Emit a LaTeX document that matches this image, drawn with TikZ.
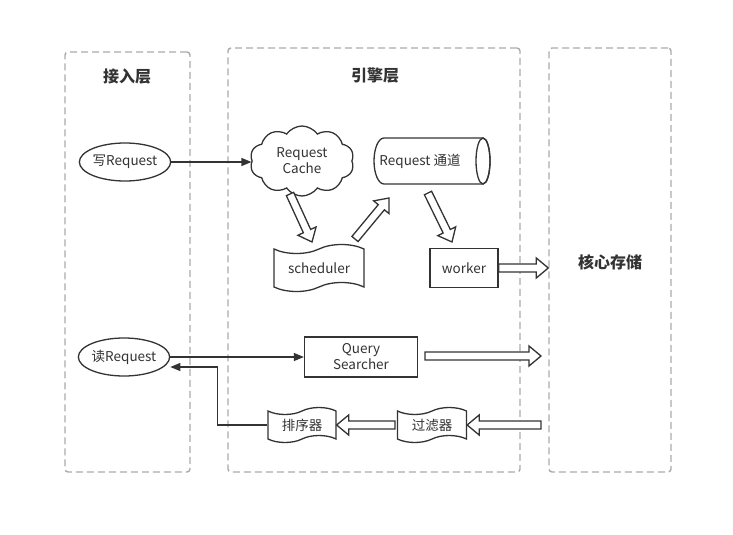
\documentclass[tikz,border=0pt]{standalone}
\usepackage{fontspec}
\setmainfont{Noto Sans CJK SC}
\usetikzlibrary{shapes.geometric,shapes.symbols,arrows.meta,calc}

\definecolor{ink}{HTML}{333333}
\definecolor{frame}{HTML}{AAAAAA}

\tikzset{
  layer/.style={draw=frame, line width=1.4pt, dash pattern=on 7pt off 4pt,
    rounded corners=3pt, minimum width=#1, inner sep=0pt},
  title/.style={font=\fontsize{16}{18}\selectfont\bfseries, text=ink},
  lbl/.style={font=\fontsize{13.5}{16}\selectfont, text=ink, align=center},
  shp/.style={lbl, draw=ink, line width=1.3pt, fill=white, inner sep=0pt},
  outline/.style={draw=ink, line width=1.3pt, fill=white},
  req/.style={shp, ellipse, minimum width=86pt, minimum height=38pt},
  tapebox/.style={shp, tape, tape bend top=in and out, tape bend bottom=in and out,
    tape bend height=9pt},
  conn/.style={draw=ink, line width=1.3pt, -{Triangle[length=10pt,width=8pt]}},
  hollow/.style={draw=ink, line width=1.3pt, fill=white, line join=miter},
}

% hollow block arrow from #1 (tail) to #2 (tip)
\newcommand{\blockarrow}[2]{%
  \coordinate (ba-h) at ($(#2)!12pt!(#1)$);
  \draw[hollow]
    ($(#1)!4pt!90:(#2)$) -- ($(ba-h)!4pt!-90:(#1)$) -- ($(ba-h)!10pt!-90:(#1)$)
    -- (#2) -- ($(ba-h)!10pt!90:(#1)$) -- ($(ba-h)!4pt!90:(#1)$)
    -- ($(#1)!4pt!-90:(#2)$) -- cycle;}

\begin{document}
\begin{tikzpicture}[x=1pt,y=-1pt]
  \useasboundingbox (0,0) rectangle (733,535);

  % three layers
  \node[layer=125pt, minimum height=420pt] (access) at (127.5,262) {};
  \node[layer=292pt, minimum height=424pt] (engine) at (374,260) {};
  \node[layer=122pt, minimum height=424pt] (core) at (610,260) {};
  \node[title] (accessT) at (127,76) {接入层};
  \node[title] (engineT) at (375,76) {引擎层};
  \node[title] (coreT) at (610,262) {核心存储};

  % write path
  \node[req] (wreq) at (125,162) {写Request};
  \node[shp, cloud, cloud puffs=10, cloud puff arc=110, aspect=1.5,
        minimum width=104pt, minimum height=70pt] (cache) at (302,161) {Request\\Cache};

  % horizontal cylinder: rounded left end, open ellipse on the right
  \draw[outline] (384,138) -- (483,138)
    arc[start angle=90, end angle=-90, x radius=7pt, y radius=23pt]
    -- (384,184)
    arc[start angle=270, end angle=90, x radius=10pt, y radius=23pt] -- cycle;
  \draw[outline, fill=none] (483,161) ellipse[x radius=7pt, y radius=23pt];
  \node[lbl] (chan) at (420,161) {Request 通道};

  \node[tapebox, minimum width=90pt, minimum height=47pt] (sched) at (319,268) {scheduler};
  \node[shp, rectangle, minimum width=68pt, minimum height=39pt] (worker) at (464,268) {worker};

  % read path
  \node[req] (rreq) at (124,357) {读Request};
  \node[shp, rectangle, minimum width=113pt, minimum height=40pt] (qs) at (361,357) {Query\\Searcher};
  \node[tapebox, minimum width=68pt, minimum height=35pt, tape bend height=7pt] (sort) at (302,425) {排序器};
  \node[tapebox, minimum width=69pt, minimum height=35pt, tape bend height=7pt] (filter) at (432,425) {过滤器};

  % plain connectors
  \draw[conn] (wreq.east) -- (cache.west |- wreq.east);
  \draw[conn] (rreq.east |- qs.west) -- (qs.west);
  \coordinate (back) at ($(rreq.east)+(0,10)$);
  \draw[conn] (sort.west) -- ++(-50,0) |- (back);

  % block arrows
  \coordinate (a1) at (290,194); \coordinate (b1) at (312,242);
  \coordinate (a2) at (355,239); \coordinate (b2) at (389,198);
  \coordinate (a3) at (428,193); \coordinate (b3) at (452,242);
  \coordinate (a4) at (worker.east); \coordinate (b4) at (core.west |- worker.east);
  \coordinate (a5) at (425,356); \coordinate (b5) at (541,356);
  \coordinate (a6) at (541,425); \coordinate (b6) at (filter.east);
  \coordinate (a7) at (395,425); \coordinate (b7) at (sort.east);
  \blockarrow{a1}{b1}
  \blockarrow{a2}{b2}
  \blockarrow{a3}{b3}
  \blockarrow{a4}{b4}
  \blockarrow{a5}{b5}
  \blockarrow{a6}{b6}
  \blockarrow{a7}{b7}
\end{tikzpicture}
\end{document}
